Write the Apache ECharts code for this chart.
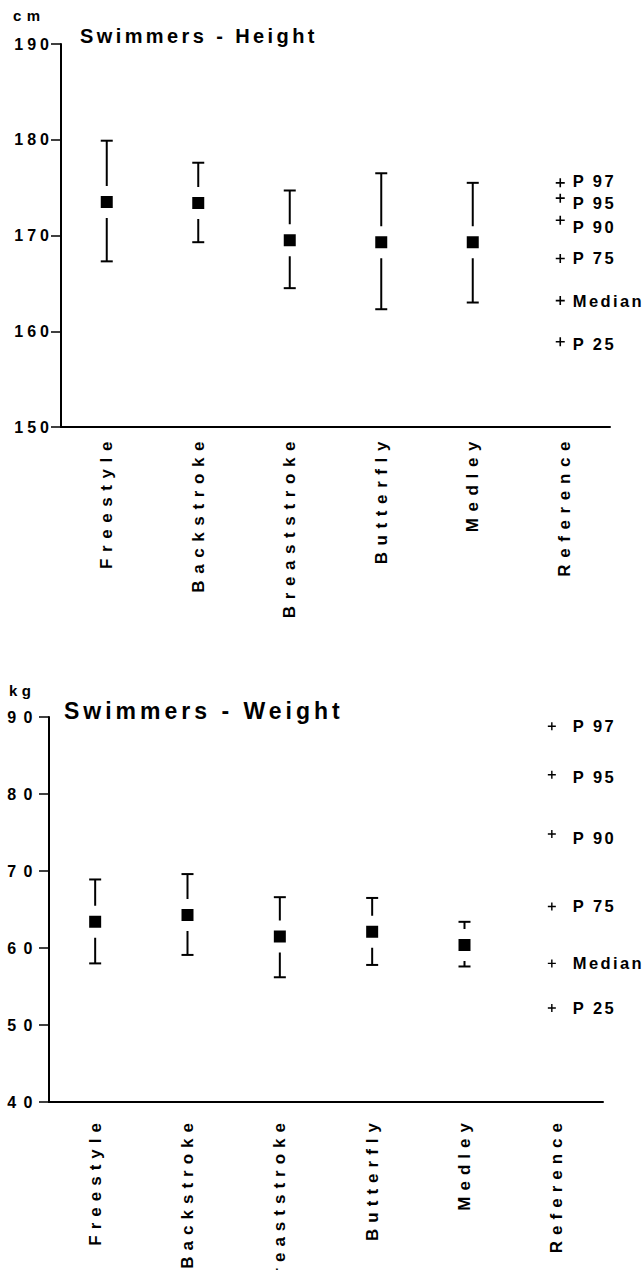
<!DOCTYPE html>
<html>
<head>
<meta charset="utf-8">
<title>Swimmers - Height / Weight</title>
<script src="https://cdn.jsdelivr.net/npm/echarts@6.0.0/dist/echarts.min.js"></script>
<style>
  html, body { margin: 0; padding: 0; background: #fff; }
  #height { width: 643px; height: 640px; }
  #weight { width: 643px; height: 630px; }
</style>
</head>
<body>
<div id="height"></div>
<div id="weight"></div>
<script>
const categories = ['Freestyle', 'Backstroke', 'Breaststroke', 'Butterfly', 'Medley', 'Reference']
const refLabels = ['P 97', 'P 95', 'P 90', 'P 75', 'Median', 'P 25']

// height (cm): mean and error bar ends per stroke, reference percentiles
const heightTicks = [150, 160, 170, 180, 190]
const heightMean = [173.5, 173.4, 169.5, 169.3, 169.3]
const heightLow = [167.3, 169.3, 164.5, 162.3, 163.0]
const heightHigh = [179.9, 177.6, 174.7, 176.5, 175.5]
const heightRef = [175.5, 173.9, 171.6, 167.6, 163.2, 158.9]

// weight (kg)
const weightTicks = [40, 50, 60, 70, 80, 90]
const weightMean = [63.4, 64.3, 61.5, 62.1, 60.4]
const weightLow = [58.0, 59.1, 56.2, 57.8, 57.6]
const weightHigh = [68.9, 69.6, 66.6, 66.5, 63.4]
const weightRef = [88.8, 82.5, 74.8, 65.4, 58.0, 52.2]

const FONT = 'Liberation Sans'
const PLUS = 'path://M3.7,0H5.3V3.7H9V5.3H5.3V9H3.7V5.3H0V3.7H3.7Z'

// font sizes double as keys for the letter spacing below
const SIZE = { unit: 15, tick: 16, ref: 16.5, category: 17 }

const text = (size) => ({ fontFamily: FONT, fontWeight: 'bold', fontSize: size, color: '#000' })

const errorBar = (capHalf) => (params, api) => {
  const low = api.coord([api.value(0), api.value(1)])
  const high = api.coord([api.value(0), api.value(2)])
  const style = { stroke: '#000', lineWidth: 2, fill: null }
  return {
    type: 'group',
    children: [
      { type: 'line', shape: { x1: low[0], y1: low[1], x2: high[0], y2: high[1] }, style },
      { type: 'line', shape: { x1: high[0] - capHalf, y1: high[1], x2: high[0] + capHalf, y2: high[1] }, style },
      { type: 'line', shape: { x1: low[0] - capHalf, y1: low[1], x2: low[0] + capHalf, y2: low[1] }, style },
    ],
  }
}

const buildOption = (d, l) => ({
  animation: false,
  title: [
    { text: d.unit, left: l.unitLeft, top: l.unitTop, padding: 0, textStyle: text(SIZE.unit) },
    { text: d.title, left: l.titleLeft, top: l.titleTop, padding: 0, textStyle: text(l.titleSize) },
  ],
  grid: l.grid,
  xAxis: {
    type: 'category',
    data: categories,
    axisLine: { lineStyle: { color: '#000', width: 2 } },
    axisTick: { alignWithLabel: true, length: l.xTickLength, lineStyle: { color: '#000', width: 2 } },
    axisLabel: { interval: 0, rotate: 90, margin: l.xLabelMargin, ...text(SIZE.category) },
    splitLine: { show: false },
  },
  yAxis: {
    type: 'value',
    min: d.ticks[0],
    max: d.ticks[d.ticks.length - 1],
    interval: d.ticks[1] - d.ticks[0],
    axisLine: { show: true, lineStyle: { color: '#000', width: 2 } },
    axisTick: { show: true, length: 10, lineStyle: { color: '#000', width: 1.5 } },
    axisLabel: { margin: l.yLabelMargin, ...text(SIZE.tick) },
    splitLine: { show: false },
  },
  series: [
    {
      type: 'custom',
      renderItem: errorBar(6),
      encode: { x: 0, y: [1, 2] },
      data: d.low.map((v, i) => [i, v, d.high[i]]),
      z: 2,
    },
    {
      type: 'scatter',
      symbol: 'rect',
      symbolSize: 22,
      itemStyle: { color: '#000', borderColor: '#fff', borderWidth: 10, opacity: 1 },
      data: d.mean.map((v, i) => [i, v]),
      z: 3,
    },
    {
      type: 'scatter',
      symbol: PLUS,
      symbolSize: l.plusSize,
      symbolOffset: [l.plusOffset, 0],
      itemStyle: { color: '#000', opacity: 1 },
      label: {
        show: true,
        position: 'right',
        distance: l.refDistance,
        formatter: (p) => refLabels[p.dataIndex],
        ...text(SIZE.ref),
      },
      data: d.ref.map((v, i) => ({ value: [categories.length - 1, v], label: { offset: l.refShift[i] } })),
      z: 3,
    },
  ],
})

// zrender has no letter spacing, so it is put on the svg text afterwards, by font size
const spaceLetters = (chart, spacing) => {
  chart.getDom().querySelectorAll('text').forEach((el) => {
    const size = parseFloat(getComputedStyle(el).fontSize)
    if (spacing[size] != null) el.style.letterSpacing = spacing[size] + 'px'
  })
}

const heightChart = echarts.init(document.getElementById('height'), null, { renderer: 'svg' })
heightChart.setOption(buildOption(
  { unit: 'cm', title: 'Swimmers - Height', ticks: heightTicks, mean: heightMean, low: heightLow, high: heightHigh, ref: heightRef },
  {
    unitLeft: 13, unitTop: 8,
    titleLeft: 80, titleTop: 26, titleSize: 20,
    grid: { left: 61, top: 44, width: 549, height: 383 },
    xTickLength: 10, xLabelMargin: 8, yLabelMargin: 8,
    plusSize: 9, plusOffset: -4, refDistance: 8,
    refShift: [[0, -2], [0, 5], [0, 7], [0, 0], [0, 0], [0, 2]],
  },
))
spaceLetters(heightChart, { 15: 5.5, 16: 4, 16.5: 2.4, 17: 6.6, 20: 3.4 })

const weightChart = echarts.init(document.getElementById('weight'), null, { renderer: 'svg' })
weightChart.setOption(buildOption(
  { unit: 'kg', title: 'Swimmers - Weight', ticks: weightTicks, mean: weightMean, low: weightLow, high: weightHigh, ref: weightRef },
  {
    unitLeft: 9, unitTop: 43,
    titleLeft: 64, titleTop: 59, titleSize: 23,
    grid: { left: 49, top: 77, width: 554, height: 385 },
    xTickLength: 12, xLabelMargin: 15, yLabelMargin: 9,
    plusSize: 8, plusOffset: -5, refDistance: 17,
    refShift: [[0, 0], [0, 2], [0, 4], [0, 0], [0, 0], [0, 0]],
  },
))
spaceLetters(weightChart, { 15: 4.5, 16: 7.5, 16.5: 2.4, 17: 6, 23: 4 })
</script>
</body>
</html>
